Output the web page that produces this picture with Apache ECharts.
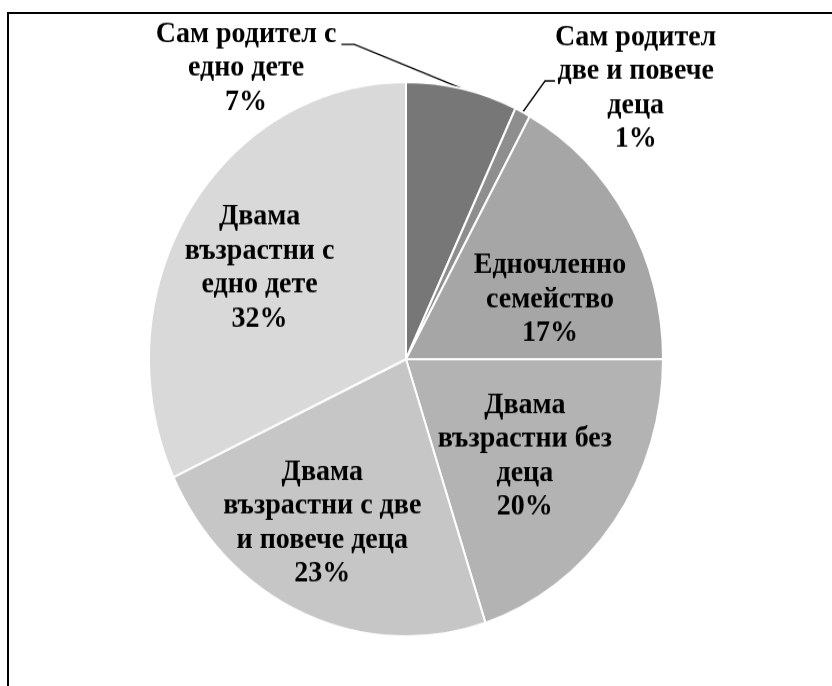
<!DOCTYPE html>
<html>
<head>
<meta charset="utf-8">
<script src="https://cdn.jsdelivr.net/npm/echarts@6/dist/echarts.min.js"></script>
<style>
  html, body { margin: 0; padding: 0; background: #fff; }
  body { width: 832px; height: 686px; position: relative; overflow: hidden; }
  #frame { position: absolute; left: 7px; top: 12px; width: 900px; height: 800px;
           border-left: 2px solid #000; border-top: 2px solid #000; }
  #chart { position: absolute; left: 0; top: 0; width: 832px; height: 636px;
           transform: scaleY(1.0786); transform-origin: 0 0; }
</style>
</head>
<body>
<div id="frame"></div>
<div id="chart"></div>
<script>
// Household types, clockwise from 12 o'clock
const categories = [
  'Сам родител с\nедно дете',
  'Сам родител\nдве и повече\nдеца',
  'Едночленно\nсемейство',
  'Двама\nвъзрастни без\nдеца',
  'Двама\nвъзрастни с две\nи повече деца',
  'Двама\nвъзрастни с\nедно дете'
];
const shares = [7, 1, 17, 20, 23, 32];
const sliceColors = ['#777777', '#8e8e8e', '#a6a6a6', '#b3b3b3', '#c6c6c6', '#d9d9d9'];

const labelFont = {
  fontFamily: '"Liberation Serif", "Times New Roman", serif',
  fontWeight: 'bold',
  fontSize: 28,
  lineHeight: 31.5,
  color: '#000'
};

// slices whose labels sit outside, with a leader line
const outsideIdx = [0, 1];
// label placement relative to the leader anchor on the rim
const leader = {
  0: { dx: -216, dy: -19, side: 'left', lineDy: -22, gap: 5, len2: 13 },
  1: { dx: 113, dy: -22, side: 'right', lineDy: -7, gap: 0, len2: 10 }
};
// small nudges for the labels drawn inside the slices
const insideNudge = {
  2: [8, 25],
  3: [-9, -3],
  4: [-21, 7],
  5: [-13, 0]
};

const center = ['406', '333'];
const R = 257;

const sliceData = categories.map((name, i) => ({
  name,
  value: shares[i],
  itemStyle: { color: sliceColors[i] },
  label: { show: outsideIdx.includes(i) },
  labelLine: { show: outsideIdx.includes(i) }
}));

const labelData = categories.map((name, i) => ({
  name,
  value: shares[i],
  label: {
    show: !outsideIdx.includes(i),
    offset: insideNudge[i] || [0, 0]
  }
}));

const chart = echarts.init(document.getElementById('chart'), null, { renderer: 'canvas' });
chart.setOption({
  animation: false,
  backgroundColor: 'transparent',
  series: [
    {
      type: 'pie',
      center: center,
      radius: [0, R],
      startAngle: 90,
      clockwise: true,
      avoidLabelOverlap: false,
      itemStyle: { borderColor: '#fff', borderWidth: 2 },
      label: Object.assign({ position: 'outside', formatter: '{b}\n{c}%' }, labelFont),
      labelLine: { length: 30, length2: 10, lineStyle: { color: '#000', width: 1.3 } },
      labelLayout(params) {
        const g = leader[params.dataIndex];
        if (!g || !params.labelLinePoints) return {};
        const A = params.labelLinePoints[0];
        const cx = A[0] + g.dx;
        const cy = A[1] + g.dy;
        const w = params.labelRect.width;
        const sgn = g.side === 'left' ? 1 : -1;
        const edgeX = cx + sgn * w / 2;
        const ly = cy + g.lineDy;
        return {
          x: cx,
          y: cy,
          align: 'center',
          verticalAlign: 'middle',
          labelLinePoints: [
            [A[0], A[1]],
            [edgeX + sgn * (g.gap + g.len2), ly],
            [edgeX + sgn * g.gap, ly]
          ]
        };
      },
      emphasis: { disabled: true },
      data: sliceData
    },
    {
      // transparent twin used to carry the in-slice labels farther out
      type: 'pie',
      center: center,
      radius: [0, 310],
      startAngle: 90,
      clockwise: true,
      silent: true,
      avoidLabelOverlap: false,
      itemStyle: { color: 'rgba(0,0,0,0)', borderWidth: 0 },
      label: Object.assign({ position: 'inside', formatter: '{b}\n{c}%', align: 'center' }, labelFont),
      labelLine: { show: false },
      emphasis: { disabled: true },
      data: labelData
    }
  ]
});
</script>
</body>
</html>
